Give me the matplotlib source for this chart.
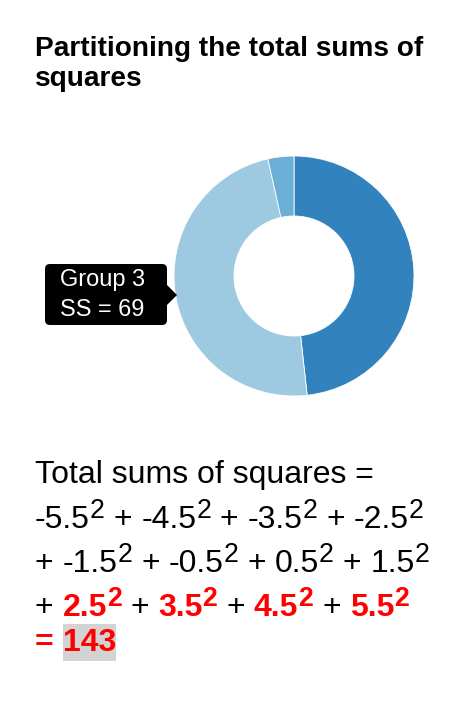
import matplotlib
matplotlib.use('Agg')
import matplotlib.pyplot as plt
from matplotlib.patches import FancyBboxPatch, Polygon, Rectangle

W, H = 470, 712
DPI = 100

title_lines = ['Partitioning the total sums of', 'squares']
group_names = ['Group 1', 'Group 2', 'Group 3']
group_ss = [69, 5, 69]
group_colors = ['#3182bd', '#6baed6', '#9ecae1']
deviations = [-5.5, -4.5, -3.5, -2.5, -1.5, -0.5, 0.5, 1.5, 2.5, 3.5, 4.5, 5.5]
deviation_group = [0, 0, 0, 0, 1, 1, 1, 1, 2, 2, 2, 2]
highlight = 2          # group shown in the tooltip / red in the sum
total_ss = 143
terms_per_line = 4

FONT = 'Liberation Sans'


def pt(size_px):
    return size_px * 72 / DPI


def Y(y):
    # pixel rows from the top -> data y
    return H - y


fig = plt.figure(figsize=(W / DPI, H / DPI), dpi=DPI)
ax = fig.add_axes([0, 0, 1, 1])
renderer = fig.canvas.get_renderer()

# donut, slices sorted by value (descending) like d3.pie
order = sorted(range(len(group_ss)), key=lambda i: -group_ss[i])
ax.pie([group_ss[i] for i in order], colors=[group_colors[i] for i in order],
       startangle=90, counterclock=False, center=(294, Y(276)), radius=120,
       wedgeprops=dict(width=60, edgecolor='white', linewidth=0.6))

ax.set_xlim(0, W)
ax.set_ylim(0, H)
ax.set_aspect('auto')
ax.axis('off')

# title
for k, line in enumerate(title_lines):
    ax.text(35, Y(56 + 30 * k), line, fontsize=pt(28), fontweight='bold',
            family=FONT, ha='left', va='baseline')

# tooltip for the highlighted group
ax.add_patch(FancyBboxPatch((45, Y(325)), 122, 61,
                            boxstyle='round,pad=0,rounding_size=5',
                            fc='black', ec='none', zorder=4))
ax.add_patch(Polygon([(166, Y(284)), (177, Y(295)), (166, Y(306))],
                     closed=True, fc='black', ec='none', zorder=4))
ax.text(60, Y(286), group_names[highlight], fontsize=pt(23.5), color='white',
        family=FONT, ha='left', va='baseline', zorder=5)
ax.text(60, Y(316), f'SS = {group_ss[highlight]}', fontsize=pt(23.5),
        color='white', family=FONT, ha='left', va='baseline', zorder=5)


def run(x, y, s, size, bold=False, color='black', rise=0.0):
    t = ax.text(x, Y(y - rise), s, fontsize=pt(size),
                fontweight='bold' if bold else 'normal', color=color,
                family=FONT, ha='left', va='baseline', zorder=3)
    return x + t.get_window_extent(renderer).width, t


F = 32
SUP = F / 1.2
RISE = 0.3 * F
SPACE = 0.278 * F
LEFT = 35
baselines = [483, 528, 572, 616, 651]

run(LEFT, baselines[0], 'Total sums of squares =', F)

x = LEFT
for i, d in enumerate(deviations):
    yb = baselines[1 + i // terms_per_line]
    if i % terms_per_line == 0:
        x = LEFT
    else:
        x += SPACE
    if i > 0:
        x, _ = run(x, yb, '+', F)
        x += SPACE
    hot = deviation_group[i] == highlight
    col = 'red' if hot else 'black'
    x, _ = run(x, yb, f'{d:g}', F, bold=hot, color=col)
    x, _ = run(x, yb, '2', SUP, bold=hot, color=col, rise=RISE)

yb = baselines[-1]
x, _ = run(LEFT, yb, '=', F, bold=True, color='red')
x += SPACE
x0 = x
x, _ = run(x, yb, str(total_ss), F, bold=True, color='red')
ax.add_patch(Rectangle((x0, Y(yb + 0.3 * F)), x - x0, 1.15 * F,
                       fc='#d3d3d3', ec='none', zorder=2))

fig.savefig('out.png', dpi=DPI)
